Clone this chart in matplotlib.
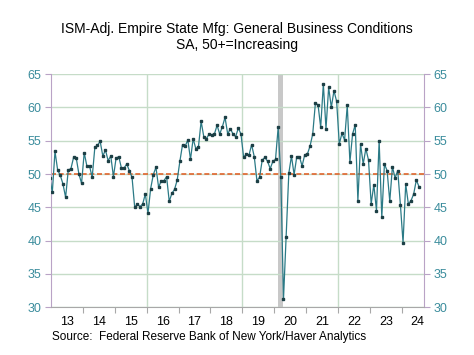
import numpy as np
import pandas as pd
import matplotlib
matplotlib.use("Agg")
import matplotlib.pyplot as plt

plt.rcParams['font.family'] = ['Liberation Sans', 'DejaVu Sans']

# monthly, Dec 2012 .. Jul 2024 (first point sits just left of the axis)
start_month = '2012-12-01'
values = [
    49.4,
    47.3, 53.4, 50.6, 49.8, 48.5, 46.5, 50.6, 50.8, 52.5, 52.4, 50.0, 48.6,  # 2013
    53.2, 51.2, 51.2, 49.5, 54.0, 54.3, 54.9, 52.7, 53.6, 52.0, 52.7, 49.6,  # 2014
    52.4, 52.6, 50.9, 50.9, 51.5, 50.5, 49.5, 45.0, 45.5, 45.1, 45.5, 47.0,  # 2015
    44.1, 47.8, 49.9, 51.0, 48.0, 49.0, 49.0, 49.6, 45.9, 47.1, 47.7, 49.1,  # 2016
    51.9, 54.4, 54.2, 55.1, 52.2, 55.3, 53.8, 54.1, 57.9, 55.6, 55.3, 56.0,  # 2017
    55.9, 56.0, 57.3, 56.0, 57.1, 58.5, 56.0, 56.8, 56.0, 55.6, 56.9, 56.0,  # 2018
    52.5, 53.0, 52.8, 54.4, 52.6, 49.0, 49.5, 52.1, 52.5, 51.9, 50.8, 51.9,  # 2019
    52.2, 57.0, 49.5, 31.2, 40.5, 50.1, 52.7, 49.9, 52.6, 52.6, 51.2, 52.9,  # 2020
    53.0, 54.2, 56.0, 60.6, 60.4, 57.0, 63.5, 56.8, 63.0, 60.0, 62.5, 60.9,  # 2021
    54.5, 56.1, 55.1, 60.3, 51.8, 56.0, 57.4, 46.0, 54.5, 51.5, 53.8, 52.1,  # 2022
    45.5, 48.4, 44.5, 55.0, 43.5, 51.5, 50.5, 45.9, 51.1, 49.4, 50.5, 45.4,  # 2023
    39.7, 48.5, 45.5, 46.0, 47.0, 49.1, 48.1,                                # 2024
]
year_labels = ['13', '14', '15', '16', '17', '18', '19', '20', '21', '22', '23', '24']
first_year = 2013
recession = (2020 + 1.5 / 12, 2020 + 3.5 / 12)
ref_level = 50
yticks = [30, 35, 40, 45, 50, 55, 60, 65]

dates = pd.date_range(start_month, periods=len(values), freq='MS')
x = dates.year + (dates.month - 0.5) / 12.0

teal = '#3a8c9c'
axis_purple = '#b9a3c6'
grid_green = '#c6dcc8'

fig = plt.figure(figsize=(4.74, 3.55), dpi=100)
ax = fig.add_axes([0.1076, 0.1344, 0.787, 0.657])

ax.axvspan(*recession, color='#c8c8c8', lw=0, zorder=1)
ax.axhline(ref_level, color='#e0642c', ls=(0, (3, 1.6)), lw=1.2, zorder=2)
ax.plot(x, values, color='#2b7a86', lw=0.9, marker='s', ms=1.8,
        mfc='#1c3f45', mec='#1c3f45', zorder=3)

ax.set_xlim(2013.0, 2024.70)
ax.set_ylim(30, 65)

# y axis both sides
ax.set_yticks(yticks)
ax.yaxis.grid(True, color=grid_green, lw=1.0)
ax.tick_params(axis='y', which='both', left=True, right=True, labelleft=True,
               labelright=True, labelsize=9, labelcolor=teal,
               color=axis_purple, length=4, direction='out', pad=3)

# x axis: year boundaries as ticks, labels centred in each year
n_years = len(year_labels)
bounds = np.arange(first_year, first_year + n_years + 1)
ax.set_xticks(bounds[1:-1])
ax.set_xticklabels([])
ax.set_xticks(np.arange(n_years) + first_year + 0.5, minor=True)
ax.set_xticklabels(year_labels, minor=True)
ax.tick_params(axis='x', which='major', length=4, color='#a8a8a8', direction='out')
ax.tick_params(axis='x', which='minor', length=0, labelsize=9, pad=6)
for v in [2016, 2019, 2022]:
    ax.axvline(v, color=grid_green, lw=1.0, zorder=0)

for side in ['left', 'right']:
    ax.spines[side].set_color(axis_purple)
ax.spines['bottom'].set_color('#a8a8a8')
ax.spines['top'].set_visible(False)

fig.text(0.5, 0.918, 'ISM-Adj. Empire State Mfg: General Business Conditions',
         ha='center', va='center', fontsize=10)
fig.text(0.5, 0.873, 'SA, 50+=Increasing', ha='center', va='center', fontsize=10)
fig.text(0.11, 0.05, 'Source:  Federal Reserve Bank of New York/Haver Analytics',
         ha='left', va='center', fontsize=8.5)

fig.savefig('out.png', dpi=100)
